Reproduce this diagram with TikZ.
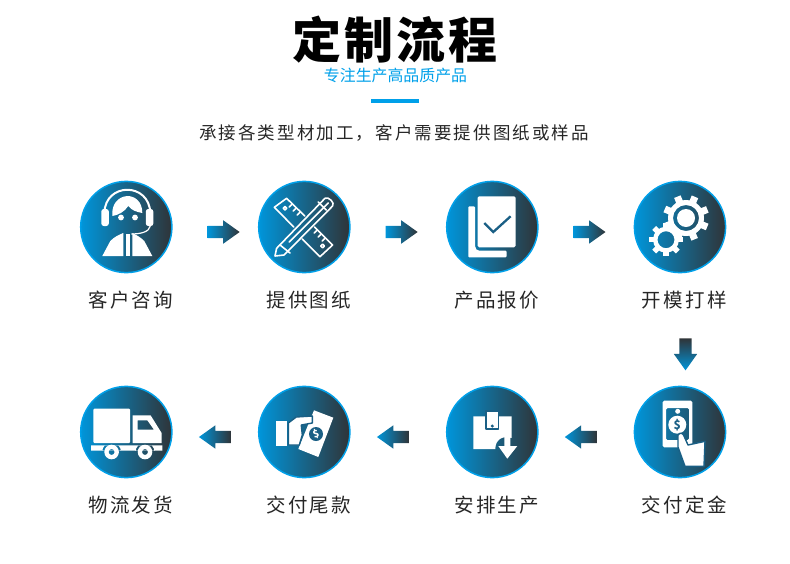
\documentclass[tikz,border=0pt]{standalone}
\usepackage{fontspec}
\usepackage{tikz}
\usetikzlibrary{arrows.meta, positioning, calc, shapes.arrows}
\setmainfont{Noto Sans CJK SC}
\newfontfamily\titlefont[LetterSpace=6]{Noto Sans CJK SC}
\newfontfamily\labfont[LetterSpace=12]{Noto Sans CJK SC}
\definecolor{sblue}{HTML}{0095DA}
\definecolor{sring}{HTML}{00A0E9}
\definecolor{sdark}{HTML}{2F3438}
\definecolor{smid}{HTML}{1A5F85}
\definecolor{sink}{HTML}{262626}
\tikzset{
  disc/.style={
    circle, draw=sring, line width=1.5pt, inner sep=0pt, minimum size=91.2pt,
    left color=sblue, right color=sdark
  },
  steplab/.style={font=\labfont\fontsize{19.5}{22}\selectfont, text=sink},
  flowarrow/.style={
    single arrow, inner sep=0pt, minimum width=23pt, minimum height=32pt,
    single arrow head extend=5.5pt, single arrow tip angle=71, draw=none
  },
  rightflow/.style={flowarrow, left color=sblue, right color=sdark},
  leftflow/.style={flowarrow, shape border rotate=180, left color=sblue, right color=sdark},
  downflow/.style={flowarrow, shape border rotate=270, top color=sdark, bottom color=sblue},
  ico/.style={fill=white, draw=none},
  icoline/.style={draw=white, line width=1.6pt, line join=round, line cap=round},
  icocut/.style={fill=white, draw=smid, line width=1.4pt, line join=round}
}
\begin{document}
\begin{tikzpicture}[x=1pt,y=-1pt]
  \useasboundingbox (0,0) rectangle (790,563);
  % heading block
  \node[font=\titlefont\bfseries\fontsize{49}{52}\selectfont, text=black] (title) at (395,40) {定制流程};
  \node[font=\fontsize{15.9}{18}\selectfont, text=sring] (slogan) at (395.5,75) {专注生产高品质产品};
  \fill[sring] (371,99) rectangle (419,103);
  \node[font=\labfont\fontsize{17.5}{20}\selectfont, text=sink] (intro) at (394,133) {承接各类型材加工，客户需要提供图纸或样品};
  % discs and labels
  \foreach \nm/\x/\y/\lab in {
    consult/126.3/227/客户咨询, drawing/304.3/227/提供图纸, quote/492.3/227/产品报价, sample/680/227/开模打样,
    truck/126.3/432/物流发货, balance/304.3/432/交付尾款, produce/492.3/432/安排生产, deposit/680/432/交付定金} {
    \node[disc] (\nm) at (\x,\y) {};
    \node[steplab] (\nm lab) at ($(\nm.center)+(4.5,73)$) {\lab};
  }
  % arrows between the discs
  \node[rightflow] (fa) at ($(consult.east)!0.5!(drawing.west)+(4,5)$) {\rule{0pt}{12pt}};
  \node[rightflow] (fb) at ($(drawing.east)!0.5!(quote.west)+(-1,5)$) {\rule{0pt}{12pt}};
  \node[rightflow] (fc) at ($(quote.east)!0.5!(sample.west)+(-1,5)$) {\rule{0pt}{12pt}};
  \node[downflow] (fd) at ($(sample.center)!0.5!(deposit.center)+(5.5,20.5)$) {\rule{12pt}{0pt}};
  \node[leftflow] (fe) at ($(deposit.west)!0.5!(produce.east)+(-1,5)$) {\rule{0pt}{12pt}};
  \node[leftflow] (ff) at ($(produce.west)!0.5!(balance.east)+(-1,5)$) {\rule{0pt}{12pt}};
  \node[leftflow] (fg) at ($(balance.west)!0.5!(truck.east)+(4,5)$) {\rule{0pt}{12pt}};
  % headset agent
  \begin{scope}[shift={(consult.center)}]
    \draw[icoline,line width=2pt] (-22,-14) .. controls (-21,-45) and (23,-45) .. (24,-14);
    \fill[ico,rounded corners=2.5pt] (-25,-18) rectangle (-17.5,-1);
    \fill[ico,rounded corners=2.5pt] (19.5,-18) rectangle (27,-1);
    \fill[ico] (-14,-11) .. controls (-16,-36) and (16,-38) .. (16,-14)
      .. controls (10,-15) and (5,-17) .. (2,-21) .. controls (-2,-15) and (-8,-12) .. cycle;
    \fill[ico] (-5.3,-9.5) circle (2.9);
    \fill[ico] (8.7,-9.5) circle (2.9);
    \draw[white,line width=1.2pt] (24,-1) .. controls (23,5) and (14,7) .. (5,7);
    \fill[ico] (-24,29) -- (-16,14) .. controls (-12,10) and (-8,8) .. (-3,6) -- (-3,29) -- cycle;
    \fill[ico] (26,29) -- (18,14) .. controls (14,10) and (10,8) .. (6,6) -- (6,29) -- cycle;
    \fill[ico] (-0.5,7) -- (3.5,7) -- (3.5,29) -- (-0.5,29) -- cycle;
  \end{scope}
  % ruler and pencil
  \begin{scope}[shift={(drawing.center)}]
    \draw[icoline] (0.5,-11) -- (-17.7,-28.7) -- (-30,-19.7) -- (-10.5,0);
    \draw[icoline] (10.2,0) -- (28.3,18) -- (15.7,29.7) -- (-2,12);
    \draw[icoline] (-19.3,-18.7) circle (1.8);
    \draw[icoline] (18.3,19) circle (1.8);
    \foreach \tx/\ty in {-12/-23, -8/-19, -4/-15, 21/11, 17/7, 13/3}
      \draw[icoline] (\tx,\ty) -- ++(-3,3);
    \draw[icoline] (-29.3,29) -- (-27.7,21.3) -- (20.7,-28.7)
      .. controls (24,-31) and (31,-24) .. (28.3,-21) -- (-20.3,28) -- cycle;
    \draw[icoline] (-15,15) -- (24,-24);
    \draw[icoline] (14,-25) -- (22,-17);
    \draw[icoline] (-24.3,18) -- (-14.3,26);
  \end{scope}
  % documents with a tick
  \begin{scope}[shift={(quote.center)}]
    \fill[ico,rounded corners=1pt] (-24,-20.7) -- (-17.3,-20.7) -- (-17.3,18)
      .. controls (-17.3,22) and (-15,23.7) .. (-12,23.7) -- (14.3,23.7) -- (14.3,30.3) -- (-24,30.3) -- cycle;
    \fill[ico,rounded corners=1.5pt] (-14.7,-30.7) rectangle (23.3,20.3);
    \draw[smid,line width=2.3pt] (-8,-4) -- (1,5) -- (18.3,-10.7);
  \end{scope}
  % gears
  \begin{scope}[shift={(sample.center)}]
    \foreach \a in {0,45,...,315}
      \fill[ico,shift={(6,-9)},rotate=\a+22] (-3.5,-23) rectangle (3.5,-15);
    \fill[ico,even odd rule] (6,-9) circle (18) (6,-9) circle (13);
    \fill[ico] (6,-9) circle (9);
    \foreach \a in {0,45,...,315}
      \fill[ico,shift={(-14,12.7)},rotate=\a] (-2.7,-16.7) rectangle (2.7,-11);
    \fill[ico,even odd rule] (-14,12.7) circle (13) (-14,12.7) circle (8.5);
  \end{scope}
  % truck
  \begin{scope}[shift={(truck.center)}]
    \fill[ico,rounded corners=1pt] (-33,-23.3) rectangle (3.7,11);
    \fill[ico,even odd rule] (6.3,-16.7) -- (24.3,-16.7) -- (35.3,1) -- (35.3,11) -- (6.3,11) -- cycle
      (11.3,-11.7) -- (21,-11.7) -- (27.7,-2.3) -- (11.3,-2.3) -- cycle;
    \begin{scope}
      \clip (-35.3,13.3) rectangle (36,18.7);
      \fill[ico,even odd rule] (-35.3,13.3) rectangle (36,18.7) (-14.7,20) circle (9.5) (18.7,20) circle (9.5);
    \end{scope}
    \fill[ico,even odd rule] (-14.7,20) circle (7.3) (-14.7,20) circle (3);
    \fill[ico,even odd rule] (18.7,20) circle (7.3) (18.7,20) circle (3);
  \end{scope}
  % hand passing a note
  \begin{scope}[shift={(balance.center)}]
    \fill[ico] (-28.3,-10.7) rectangle (-17.7,13.7);
    \fill[ico] (9.7,-21.7) -- (29,-14.3) -- (14,25) -- (-6,17) -- cycle;
    \draw[icocut] (-16,-9) -- (-8,-15) -- (8,-16) -- (8,-9) -- (-3,-7) -- (-2,3) -- (-5,13) -- (-16,13) -- cycle;
    \fill[smid] (11.7,2) circle (7);
    \node[font=\bfseries\fontsize{10}{10}\selectfont, text=white, inner sep=0pt, rotate=20] (balancecash) at (11.7,2) {\$};
  \end{scope}
  % box with download arrow
  \begin{scope}[shift={(produce.center)}]
    \fill[ico] (-19,-15.7) -- (19.3,-15.7) -- (19.3,6) .. controls (10,3) and (3,8) .. (3,17) -- (-19,17) -- cycle;
    \draw[icocut] (-6.3,-21) rectangle (6,-3);
    \fill[smid] (0,-6) circle (1.7);
    \fill[ico] (12,4.3) -- (18,4.3) -- (18,14) -- (25,14) -- (15,26.7) -- (6,14) -- (12,14) -- cycle;
  \end{scope}
  % hand holding a banknote
  \begin{scope}[shift={(deposit.center)}]
    \fill[ico,even odd rule,rounded corners=1.5pt] (-17.3,-31.3) rectangle (12.3,15.3)
      (-14,-24) rectangle (9,8);
    \fill[ico] (-2.3,-20.7) circle (2.5);
    \fill[ico] (-2.7,-7.3) circle (9);
    \node[font=\bfseries\fontsize{12}{12}\selectfont, text=smid, inner sep=0pt] (depositcash) at (-2.7,-7.3) {\$};
    \draw[icocut] (-2,3) .. controls (0,0) and (3,1) .. (4,4) -- (8,13) -- (25,9.3) -- (24,34.3) -- (5,34.3) -- (-2,15) -- cycle;
  \end{scope}
\end{tikzpicture}
\end{document}
